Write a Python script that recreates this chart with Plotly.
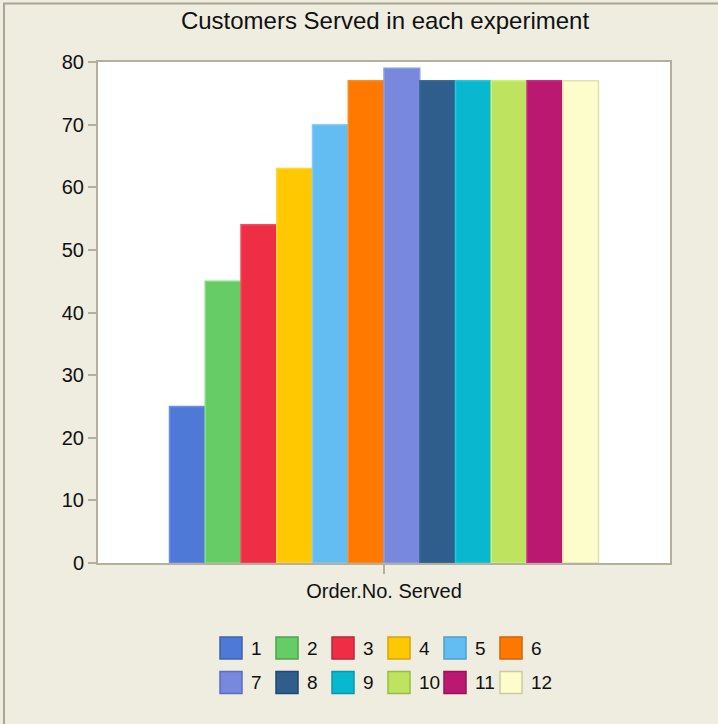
import plotly.graph_objects as go

# Data
experiments = ["1", "2", "3", "4", "5", "6", "7", "8", "9", "10", "11", "12"]
served = [25, 45, 54, 63, 70, 77, 79, 77, 77, 77, 77, 77]
category = "Order.No. Served"

fill_colors = ["#4f79d6", "#66cc66", "#ee2e44", "#ffc800", "#64bdf2", "#ff7800",
               "#7788dd", "#2f5d8c", "#09b8cf", "#bde35f", "#bb1871", "#fdfdcb"]
edge_colors = ["#6b8fee", "#80e080", "#f84a5e", "#ffd633", "#7ccdf8", "#ff8a20",
               "#8a9aee", "#3d6c9c", "#1dcbe0", "#d0f070", "#cc2a82", "#e3e0b4"]
swatch_edges = ["#3f62b0", "#4ea34e", "#c0243a", "#d4a500", "#4d9fcf", "#d36200",
                "#5c6cc0", "#204870", "#0899ad", "#98bd45", "#961259", "#cdcaa0"]

W, H = 718, 724
L, R, T, B = 98, 48, 62, 161
PW, PH = W - L - R, H - T - B

FONT = "Liberation Sans, Arial, sans-serif"
BG = "#efece0"
AXIS = "#b3b09f"
TEXT = "#111111"


def px_x(px):
    return (px - L) / PW


def px_y(py):
    return (H - B - py) / PH


fig = go.Figure()
for name, v, fc, ec in zip(experiments, served, fill_colors, edge_colors):
    fig.add_trace(go.Bar(
        x=[category], y=[v], name=name,
        marker=dict(color=fc, line=dict(color=ec, width=1.5)),
        showlegend=False,
    ))

shapes = []
annotations = []

# outer frame
shapes.append(dict(type="rect", xref="paper", yref="paper",
                   x0=px_x(4), x1=px_x(740), y0=px_y(760), y1=px_y(3.5),
                   line=dict(color="#a9a694", width=2), fillcolor="rgba(0,0,0,0)",
                   layer="below"))

# legend: two rows of six swatches
for i, (name, fc, ec) in enumerate(zip(experiments, fill_colors, swatch_edges)):
    row, col = divmod(i, 6)
    x0 = 220 + 56 * col
    yc = 648 + 34.5 * row
    shapes.append(dict(type="rect", xref="paper", yref="paper",
                       x0=px_x(x0), x1=px_x(x0 + 22),
                       y0=px_y(yc + 11), y1=px_y(yc - 11),
                       fillcolor=fc, line=dict(color=ec, width=1.5)))
    annotations.append(dict(text=name, xref="paper", yref="paper",
                            x=px_x(x0 + 29), y=px_y(yc), xanchor="left",
                            yanchor="middle", showarrow=False,
                            font=dict(family=FONT, size=19, color=TEXT)))

fig.update_layout(
    width=W, height=H,
    margin=dict(l=L, r=R, t=T, b=B),
    paper_bgcolor=BG, plot_bgcolor="white",
    barmode="group", bargap=0.25, bargroupgap=0,
    title=dict(text="Customers Served in each experiment", x=px_x(385), xref="paper",
               xanchor="center", y=1 - 21 / H, yanchor="middle",
               font=dict(family=FONT, size=24, color=TEXT)),
    font=dict(family=FONT, size=19, color=TEXT),
    shapes=shapes, annotations=annotations,
)
fig.update_xaxes(
    type="category", showgrid=False, showline=True, mirror=True,
    linecolor=AXIS, linewidth=2, ticks="outside", ticklen=9,
    tickcolor=AXIS, tickwidth=1.5,
    tickfont=dict(family=FONT, size=20, color=TEXT),
)
fig.update_yaxes(
    range=[0, 80], dtick=10, showgrid=False, zeroline=False,
    showline=True, mirror=True, linecolor=AXIS, linewidth=2,
    ticks="outside", ticklen=8, tickcolor=AXIS, tickwidth=1.5,
    tickfont=dict(family=FONT, size=20, color=TEXT),
)

fig.write_html("out.html")
